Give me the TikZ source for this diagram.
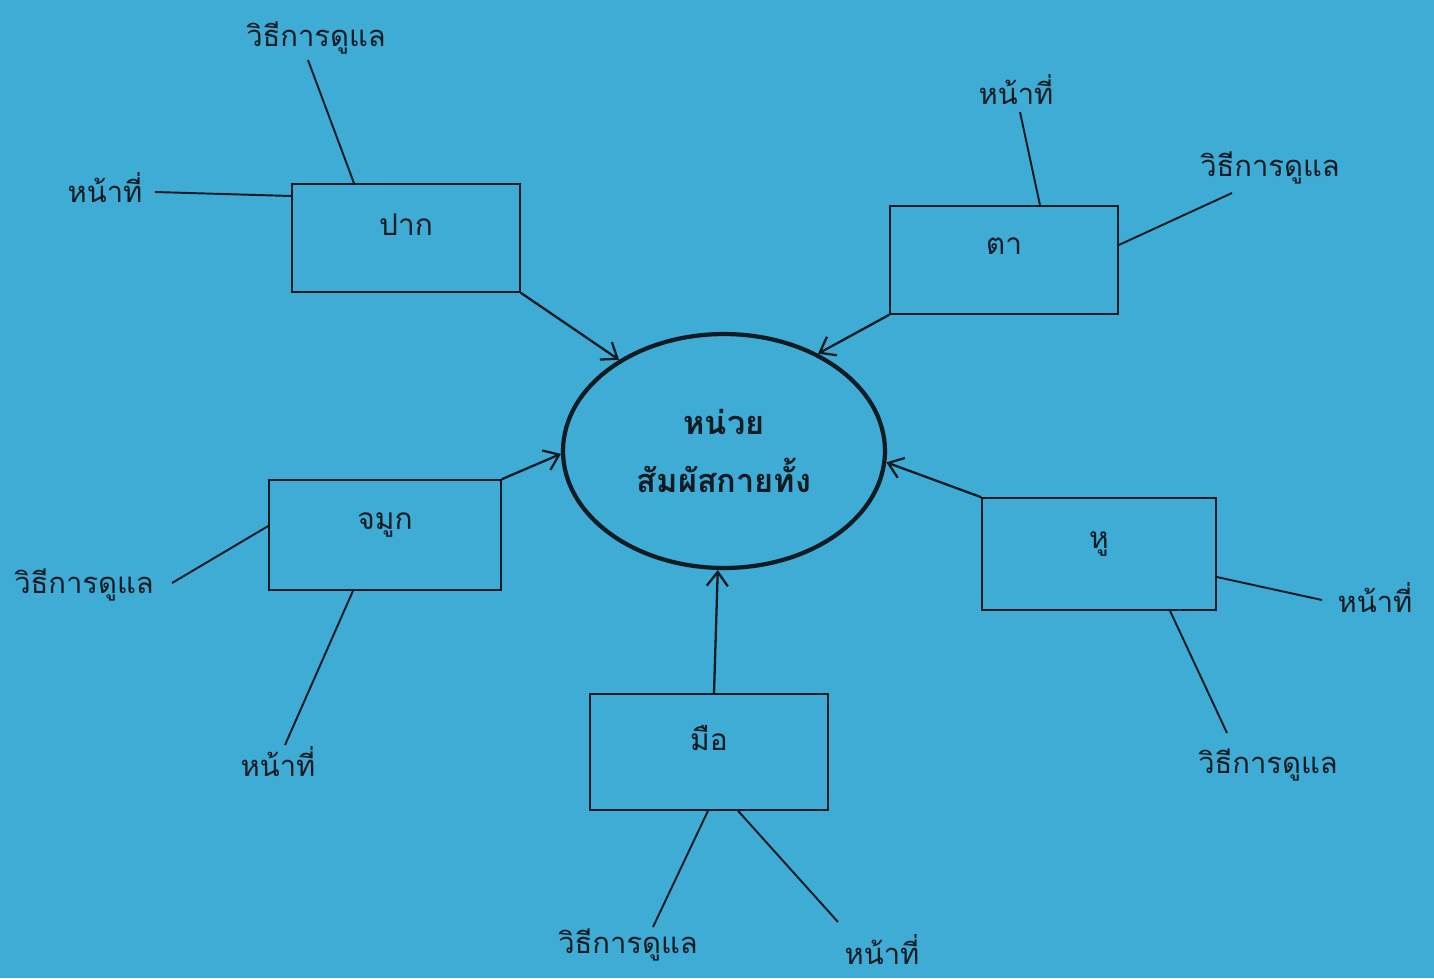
\documentclass[tikz,border=0pt]{standalone}
\usepackage{fontspec}
\newfontfamily\thaifont[Script=Thai]{Loma}
\usetikzlibrary{shapes.geometric,arrows.meta,calc}
\definecolor{bg}{RGB}{62,172,213}
\definecolor{ink}{RGB}{18,26,34}
\begin{document}
\begin{tikzpicture}[x=0.02cm,y=-0.02cm,
  organ/.style={draw=ink,line width=0.9pt,rectangle,minimum width=4.6cm,minimum height=2.2cm,
    font=\thaifont\fontsize{17}{20}\selectfont,text=ink,text depth=0.55cm},
  hubnode/.style={draw=ink,line width=2.4pt,ellipse,minimum width=6.44cm,minimum height=4.68cm,
    font=\thaifont\bfseries\fontsize{18.5}{33}\selectfont,text=ink,align=center},
  lbl/.style={font=\thaifont\fontsize{16.6}{19}\selectfont,text=ink,inner sep=0pt},
  link/.style={draw=ink,line width=1.1pt},
  feed/.style={draw=ink,line width=1.3pt,-{Straight Barb[length=8pt,width=12pt]}}]
\fill[bg] (0,0) rectangle (1434,978);
\useasboundingbox (0,0) rectangle (1434,978);

\node[hubnode] (hub) at (724,451) {หน่วย\\สัมผัสกายทั้ง};

\node[organ,minimum width=4.56cm,minimum height=2.16cm] (pak) at (406,238) {ปาก};
\node[organ,minimum width=4.56cm,minimum height=2.16cm] (ta) at (1004,260) {ตา};
\node[organ,minimum width=4.64cm,minimum height=2.2cm] (camuk) at (385,535) {จมูก};
\node[organ,minimum width=4.68cm,minimum height=2.24cm] (hu) at (1099,554) {หู};
\node[organ,minimum width=4.76cm,minimum height=2.32cm] (mue) at (709,752) {มือ};

% labels
\node[lbl] (l1) at (316,38) {วิธีการดูแล};
\node[lbl] (l2) at (105,188) {หน้าที่};
\node[lbl] (l3) at (1016,90) {หน้าที่};
\node[lbl] (l4) at (1270,168) {วิธีการดูแล};
\node[lbl] (l5) at (84,585) {วิธีการดูแล};
\node[lbl] (l6) at (278,762) {หน้าที่};
\node[lbl] (l7) at (1375,598) {หน้าที่};
\node[lbl] (l8) at (1268,765) {วิธีการดูแล};
\node[lbl] (l9) at (628,945) {วิธีการดูแล};
\node[lbl] (l10) at (882,950) {หน้าที่};

% free ends of the spokes
\coordinate (e1) at (308,60);
\coordinate (e2) at (155,192);
\coordinate (e3) at (1020,112);
\coordinate (e4) at (1232,193);
\coordinate (e5) at (172,583);
\coordinate (e6) at (285,745);
\coordinate (e7) at (1322,600);
\coordinate (e8) at (1227,733);
\coordinate (e9) at (653,927);
\coordinate (e10) at (838,922);

\draw[link] ($(pak.north)+(-52,0)$) -- (e1);
\draw[link] ($(pak.west)+(0,-42)$) -- (e2);
\draw[link] ($(ta.north)+(36,0)$) -- (e3);
\draw[link] ($(ta.east)+(0,-15)$) -- (e4);
\draw[link] ($(camuk.west)+(0,-9)$) -- (e5);
\draw[link] ($(camuk.south)+(-32,0)$) -- (e6);
\draw[link] ($(hu.east)+(0,23)$) -- (e7);
\draw[link] ($(hu.south)+(71,0)$) -- (e8);
\draw[link] ($(mue.south)+(-1,0)$) -- (e9);
\draw[link] ($(mue.south)+(29,0)$) -- (e10);

% arrows into the hub
\draw[feed] (pak.south east) -- (hub.139);
\draw[feed] (ta.south west) -- (hub.46);
\draw[feed] (camuk.north east) -- (hub.181);
\draw[feed] (hu.north west) -- (hub.356);
\draw[feed] ($(mue.north)+(5,0)$) -- (hub.267);
\end{tikzpicture}
\end{document}
